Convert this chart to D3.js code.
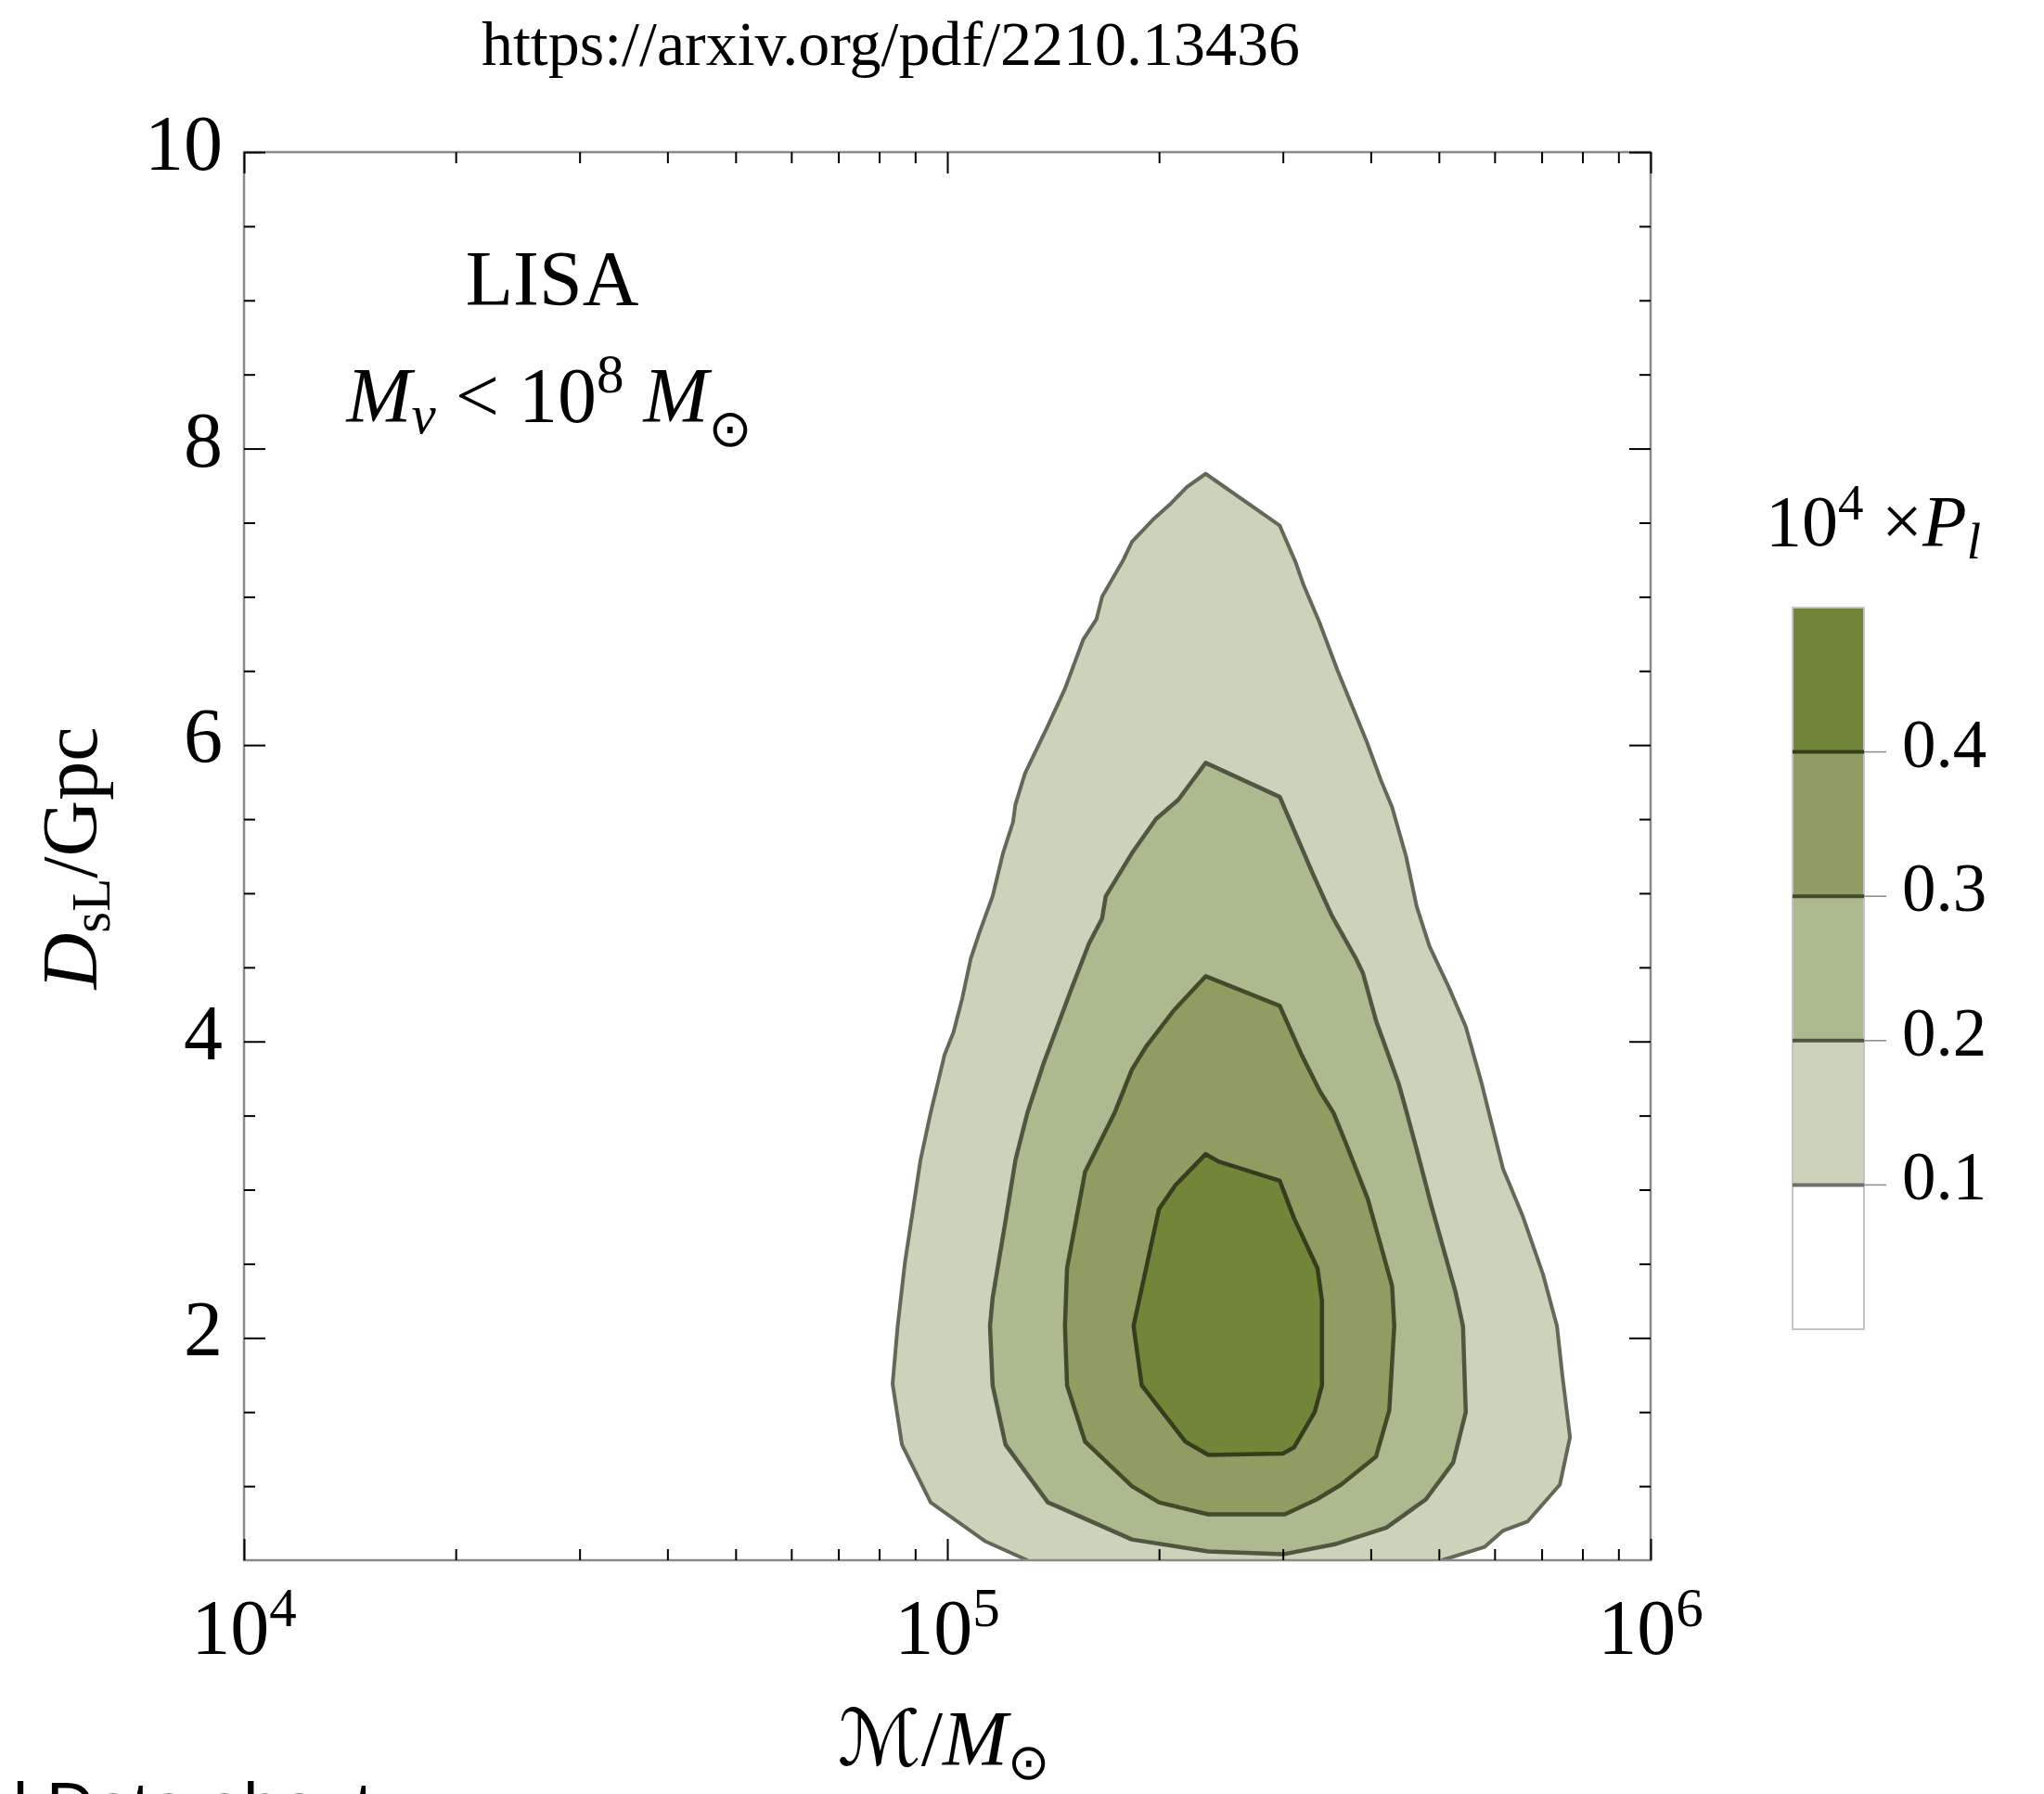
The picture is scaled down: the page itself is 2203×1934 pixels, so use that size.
<!DOCTYPE html>
<html>
<head>
<meta charset="utf-8">
<script src="https://cdn.jsdelivr.net/npm/d3@7"></script>
<style>
body { margin: 0; background: #fff; }
svg { display: block; }
text { font-family: "Liberation Serif", "Times New Roman", serif; fill: #000; }
</style>
</head>
<body>
<div id="chart"></div>
<script>
const w = 2203;
const h = 1934;

// contour levels (10^4 x P_l) and colours of the bands between them
const levels = [0.1, 0.2, 0.3, 0.4];
const bandColors = ["#ffffff", "#cdd3bb", "#adb98e", "#919c63", "#72863a"];
const lineColors = ["#626959", "#4f5740", "#414a2b", "#343d1c"];

// contour outlines: [chirp mass / Msun, D_sL / Gpc]
// 0.1 level runs off the bottom edge, so it is an open line
const contour01 = [
    [1.30e5, 0.50], [1.13e5, 0.63], [9.47e4, 0.89], [8.62e4, 1.28], [8.36e4, 1.69],
    [8.50e4, 2.08], [8.70e4, 2.50], [9.16e4, 3.20], [9.47e4, 3.52], [9.91e4, 3.91],
    [1.02e5, 4.06], [1.05e5, 4.29], [1.08e5, 4.56], [1.11e5, 4.73], [1.16e5, 4.98],
    [1.20e5, 5.27], [1.24e5, 5.48], [1.25e5, 5.60], [1.29e5, 5.81], [1.39e5, 6.13],
    [1.47e5, 6.38], [1.56e5, 6.71], [1.63e5, 6.85], [1.66e5, 7.00], [1.78e5, 7.25],
    [1.83e5, 7.37], [1.96e5, 7.52], [2.08e5, 7.63], [2.19e5, 7.74], [2.33e5, 7.83],
    [2.97e5, 7.48], [3.13e5, 7.23], [3.21e5, 7.08], [3.38e5, 6.83], [3.59e5, 6.50],
    [3.95e5, 6.02], [4.13e5, 5.77], [4.29e5, 5.58], [4.49e5, 5.25], [4.65e5, 4.91],
    [4.85e5, 4.64], [5.16e5, 4.37], [5.46e5, 4.10], [5.75e5, 3.72], [5.89e5, 3.52],
    [6.17e5, 3.14], [6.57e5, 2.83], [7.03e5, 2.43], [7.36e5, 2.08], [7.49e5, 1.75],
    [7.68e5, 1.33], [7.43e5, 1.01], [6.68e5, 0.76], [6.17e5, 0.70], [5.81e5, 0.59],
    [5.05e5, 0.50]
];
const contour02 = [
    [2.33e5, 5.88], [2.97e5, 5.65], [3.31e5, 5.13], [3.52e5, 4.85], [3.81e5, 4.56],
    [3.90e5, 4.46], [4.07e5, 4.14], [4.38e5, 3.72], [4.50e5, 3.52], [4.65e5, 3.27],
    [4.88e5, 2.89], [5.28e5, 2.31], [5.41e5, 2.08], [5.46e5, 1.50], [5.24e5, 1.16],
    [4.79e5, 0.91], [4.21e5, 0.72], [3.57e5, 0.61], [3.00e5, 0.54], [2.35e5, 0.56],
    [1.83e5, 0.64], [1.47e5, 0.84], [1.39e5, 0.89], [1.21e5, 1.28], [1.16e5, 1.68],
    [1.15e5, 2.08], [1.16e5, 2.27], [1.21e5, 2.79], [1.25e5, 3.20], [1.30e5, 3.52],
    [1.37e5, 3.85], [1.50e5, 4.35], [1.59e5, 4.66], [1.66e5, 4.83], [1.68e5, 4.98],
    [1.83e5, 5.27], [1.98e5, 5.50], [2.13e5, 5.63]
];
const contour03 = [
    [2.33e5, 4.44], [2.97e5, 4.24], [3.19e5, 3.91], [3.39e5, 3.66], [3.54e5, 3.52],
    [3.69e5, 3.31], [3.96e5, 2.94], [4.29e5, 2.35], [4.32e5, 2.08], [4.25e5, 1.51],
    [4.07e5, 1.20], [3.63e5, 1.01], [3.35e5, 0.91], [3.02e5, 0.81], [2.35e5, 0.81],
    [2.00e5, 0.89], [1.83e5, 1.00], [1.57e5, 1.30], [1.48e5, 1.68], [1.47e5, 2.08],
    [1.48e5, 2.47], [1.57e5, 3.12], [1.73e5, 3.52], [1.83e5, 3.81], [1.92e5, 3.97],
    [2.10e5, 4.21]
];
const contour04 = [
    [2.33e5, 3.24], [2.43e5, 3.19], [2.97e5, 3.06], [3.11e5, 2.81], [3.36e5, 2.47],
    [3.41e5, 2.25], [3.41e5, 1.68], [3.33e5, 1.50], [3.11e5, 1.26], [3.00e5, 1.22],
    [2.35e5, 1.21], [2.18e5, 1.30], [1.89e5, 1.68], [1.84e5, 2.08], [2.00e5, 2.87],
    [2.11e5, 3.03]
];
const contours = [
    {pts: contour01, closed: false},
    {pts: contour02, closed: true},
    {pts: contour03, closed: true},
    {pts: contour04, closed: true}
];

// ticks
const xMajor = [1e4, 1e5, 1e6];
const xMajorExp = ["4", "5", "6"];
const xMinor = [2e4, 3e4, 4e4, 5e4, 6e4, 7e4, 8e4, 9e4, 2e5, 3e5, 4e5, 5e5, 6e5, 7e5, 8e5, 9e5];
const yMajor = [2, 4, 6, 8, 10];
const yMinor = [1, 1.5, 2.5, 3, 3.5, 4.5, 5, 5.5, 6.5, 7, 7.5, 8.5, 9, 9.5];
const legendTicks = [0.1, 0.2, 0.3, 0.4];

const plot = {left: 263, right: 1779, top: 164, bottom: 1682};
const bar = {left: 1932, right: 2009, top: 655, bottom: 1433};

const x = d3.scaleLog().domain([1e4, 1e6]).range([plot.left, plot.right]);
const y = d3.scaleLinear().domain([0.5, 10]).range([plot.bottom, plot.top]);
const yl = d3.scaleLinear().domain([0, 0.5]).range([bar.bottom, bar.top]);

const svg = d3.select("#chart").append("svg").attr("width", w).attr("height", h);
svg.append("rect").attr("width", w).attr("height", h).attr("fill", "#fff");

// text helper: parts = [{t, dy, size, italic, font}]
function addText(parent, px, py, anchor, size, parts) {
    const t = parent.append("text")
        .attr("x", px).attr("y", py)
        .attr("text-anchor", anchor)
        .attr("font-size", size);
    parts.forEach(p => {
        const s = t.append("tspan").text(p.t);
        if (p.dy) s.attr("dy", p.dy);
        if (p.size) s.attr("font-size", p.size);
        if (p.italic) s.attr("font-style", "italic");
        if (p.font) s.attr("font-family", p.font);
    });
    return t;
}

svg.append("clipPath").attr("id", "plotclip")
    .append("rect")
    .attr("x", plot.left).attr("y", plot.top)
    .attr("width", plot.right - plot.left).attr("height", plot.bottom - plot.top);

//contours
const line = d3.line().x(d => x(d[0])).y(d => y(d[1]));
const cg = svg.append("g").attr("clip-path", "url(#plotclip)");
contours.forEach((c, i) => {
    cg.append("path")
        .attr("d", line(c.pts) + "Z")
        .attr("fill", bandColors[i + 1]);
    cg.append("path")
        .attr("d", line(c.pts) + (c.closed ? "Z" : ""))
        .attr("fill", "none")
        .attr("stroke", lineColors[i])
        .attr("stroke-width", i === 0 ? 4 : 4.5)
        .attr("stroke-linejoin", "round");
});

//frame
svg.append("rect")
    .attr("x", plot.left).attr("y", plot.top)
    .attr("width", plot.right - plot.left).attr("height", plot.bottom - plot.top)
    .attr("fill", "none").attr("stroke", "#8a8a8a").attr("stroke-width", 2.5);

//ticks on all four sides, pointing inwards
function ticks(axisFn, scale, values, len, transform) {
    const g = svg.append("g")
        .attr("transform", transform)
        .call(axisFn(scale).tickValues(values).tickSize(-len).tickSizeOuter(0).tickFormat(""));
    g.select(".domain").remove();
    g.selectAll(".tick line").attr("stroke", "#000").attr("stroke-width", 2);
}
ticks(d3.axisBottom, x, xMinor, 12, `translate(0,${plot.bottom})`);
ticks(d3.axisBottom, x, xMajor, 23, `translate(0,${plot.bottom})`);
ticks(d3.axisTop, x, xMinor, 12, `translate(0,${plot.top})`);
ticks(d3.axisTop, x, xMajor, 23, `translate(0,${plot.top})`);
ticks(d3.axisLeft, y, yMinor, 12, `translate(${plot.left},0)`);
ticks(d3.axisLeft, y, yMajor, 23, `translate(${plot.left},0)`);
ticks(d3.axisRight, y, yMinor, 12, `translate(${plot.right},0)`);
ticks(d3.axisRight, y, yMajor, 23, `translate(${plot.right},0)`);

//tick labels
xMajor.forEach((v, i) => {
    addText(svg, x(v), 1783, "middle", 84, [{t: "10"}, {t: xMajorExp[i], size: 59, dy: -30}]);
});
yMajor.forEach(v => {
    addText(svg, 240, y(v) + 19, "end", 84, [{t: String(v)}]);
});

//axis titles
addText(svg, 1017, 1903, "middle", 84, [
    {t: "\u2133", font: "DejaVu Serif, DejaVu Sans"},
    {t: "/"},
    {t: "M", italic: true},
    {t: "\u2299", size: 54, dy: 15, font: "DejaVu Sans"}
]);
const yTitle = svg.append("g").attr("transform", "translate(104,925) rotate(-90)");
addText(yTitle, 0, 0, "middle", 84, [
    {t: "D", italic: true},
    {t: "sL", size: 59, dy: 14},
    {t: "/Gpc", dy: -14}
]);

//annotation
addText(svg, 595, 329, "middle", 84, [{t: "LISA"}]);
addText(svg, 592, 455, "middle", 84, [
    {t: "M", italic: true},
    {t: "v", italic: true, size: 59, dy: 12},
    {t: " < 10", dy: -12},
    {t: "8", size: 59, dy: -32},
    {t: " ", dy: 32},
    {t: "M", italic: true},
    {t: "\u2299", size: 56, dy: 26, font: "DejaVu Sans"}
]);

//legend
const lg = svg.append("g").attr("id", "legend");
bandColors.forEach((c, i) => {
    lg.append("rect")
        .attr("x", bar.left).attr("width", bar.right - bar.left)
        .attr("y", yl(i * 0.1 + 0.1)).attr("height", yl(i * 0.1) - yl(i * 0.1 + 0.1))
        .attr("fill", c);
});
lg.append("rect")
    .attr("x", bar.left).attr("y", bar.top)
    .attr("width", bar.right - bar.left).attr("height", bar.bottom - bar.top)
    .attr("fill", "none").attr("stroke", "#c4c4c4").attr("stroke-width", 2);
levels.forEach((v, i) => {
    lg.append("line")
        .attr("x1", bar.left).attr("x2", bar.right)
        .attr("y1", yl(v)).attr("y2", yl(v))
        .attr("stroke", i === 0 ? "#6f6f6f" : lineColors[i]).attr("stroke-width", 4);
});
legendTicks.forEach(v => {
    lg.append("line")
        .attr("x1", bar.right).attr("x2", bar.right + 24)
        .attr("y1", yl(v)).attr("y2", yl(v))
        .attr("stroke", "#8a8a8a").attr("stroke-width", 1.5);
    addText(lg, 2050, yl(v) + 16, "start", 73, [{t: String(v)}]);
});
addText(lg, 1903, 588, "start", 78, [
    {t: "10"},
    {t: "4", size: 55, dy: -28},
    {t: " \u00d7", dy: 28},
    {t: "P", italic: true},
    {t: "l", italic: true, size: 55, dy: 14}
]);

//page header and cut-off caption
addText(svg, 960, 70, "middle", 68, [{t: "https://arxiv.org/pdf/2210.13436"}]);
addText(svg, 14, 1972, "start", 72, [{t: "l Data about", font: "Liberation Sans, Arial, sans-serif"}]);
</script>
</body>
</html>
